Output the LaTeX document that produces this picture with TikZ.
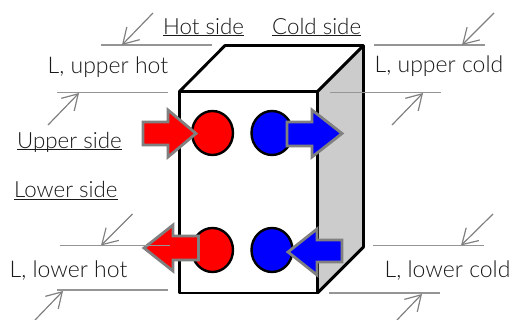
\documentclass[tikz,border=0pt]{standalone}
\usepackage{fontspec}
\setmainfont{Lato Light}[]
\usetikzlibrary{arrows.meta,shapes.geometric}
\definecolor{txt}{HTML}{1A1A1A}
\definecolor{gline}{HTML}{959595}
\definecolor{garr}{HTML}{808080}
\definecolor{sidegrey}{HTML}{CCCCCC}
\newcommand\ulbl[1]{\setbox0\hbox{#1}\rlap{\rule[-1.8pt]{\wd0}{1.2pt}}\box0}
\tikzset{
 x=1pt,y=-1pt,
 lbl/.style={anchor=base west,inner sep=0pt,text=txt,font=\fontsize{22.3}{25}\selectfont},
 lblw/.style={lbl,font=\fontsize{23}{25}\selectfont},
 box/.style={draw=black,line width=2.9pt,line join=round},
 dimline/.style={draw=gline,line width=1.4pt},
 pointer/.style={draw=garr,line width=1.2pt,-{Straight Barb[length=15pt,width=18pt,line width=1.2pt]}},
 port/.style={ellipse,draw=black,line width=2.4pt,minimum width=41pt,minimum height=44pt,inner sep=0pt},
 flow/.style={draw=garr,line width=2.8pt,line join=miter,miter limit=10},
}
\begin{document}
\begin{tikzpicture}
\useasboundingbox (0,0) rectangle (512,320);
% block
\fill[sidegrey] (317.5,91.5)--(363.5,45.5)--(363.5,247)--(317.5,293)--cycle;
\draw[box] (179.5,91.5) rectangle (317.5,293);
\draw[box] (179.5,91.5)--(225,45.5)--(363.5,45.5)--(363.5,247)--(317.5,293);
\draw[box] (317.5,91.5)--(363.5,45.5);
% ports
\node[port,fill=red] (ur) at (212.5,133) {};
\node[port,fill=blue] (ub) at (272,133) {};
\node[port,fill=red] (lr) at (212.5,250) {};
\node[port,fill=blue] (lb) at (272,250) {};
% flow arrows
\draw[flow,fill=red] (143,122)--(168,122)--(168,110)--(196,133.5)--(168,157)--(168,145)--(143,145)--cycle;
\draw[flow,fill=blue] (287,122)--(312,122)--(312,110)--(342,133.5)--(312,157)--(312,146)--(287,146)--cycle;
\draw[flow,fill=red] (198.5,236)--(173,236)--(173,225)--(144,248)--(173,271)--(173,260)--(198.5,260)--cycle;
\draw[flow,fill=blue] (342,240)--(317,240)--(317,229)--(288,252)--(317,275)--(317,262)--(342,262)--cycle;
% dimension lines
\coordinate (a1) at (101,45);\coordinate (a2) at (212,45);
\coordinate (b1) at (57,92.5);\coordinate (b2) at (168,92.5);
\coordinate (c1) at (374,45);\coordinate (c2) at (485,45);
\coordinate (d1) at (330,92.5);\coordinate (d2) at (441,92.5);
\coordinate (e1) at (59.5,245.7);\coordinate (e2) at (170,245.7);
\coordinate (f1) at (57,290);\coordinate (f2) at (168,290);
\coordinate (g1) at (373,245.7);\coordinate (g2) at (484,245.7);
\coordinate (h1) at (329,293);\coordinate (h2) at (440,293);
\foreach \n in {a,b,c,d,e,f,g,h}{\draw[dimline] (\n1)--(\n2);}
% pointers
\coordinate (as) at (153,13);\coordinate (at) at (122,45);
\coordinate (bs) at (48,125);\coordinate (bt) at (79,93);
\coordinate (cs) at (494,13);\coordinate (ct) at (462,45);
\coordinate (ds) at (392,125);\coordinate (dt) at (423,93);
\coordinate (es) at (132.5,214);\coordinate (et) at (101,245.5);
\coordinate (fs) at (35,320);\coordinate (ft) at (63,291);
\coordinate (gs) at (493,214);\coordinate (gt) at (461,245.5);
\coordinate (hs) at (397,320);\coordinate (ht) at (422,294);
\foreach \n in {a,b,c,d,e,f,g,h}{\draw[pointer] (\n s)--(\n t);}
% labels
\node[lbl] (hot) at (163,34.5) {\ulbl{Hot side}};
\node[lbl] (cold) at (272,34.5) {\ulbl{Cold side}};
\node[lbl] (up) at (17,148.5) {\ulbl{Upper side}};
\node[lbl] (low) at (14,198) {\ulbl{Lower side}};
\node[lblw] (uh) at (47.5,74) {L, upper hot};
\node[lblw] (uc) at (374.5,73) {L, upper cold};
\node[lblw] (lh) at (9.5,278) {L, lower hot};
\node[lblw] (lc) at (384.5,278) {L, lower cold};
\end{tikzpicture}
\end{document}
